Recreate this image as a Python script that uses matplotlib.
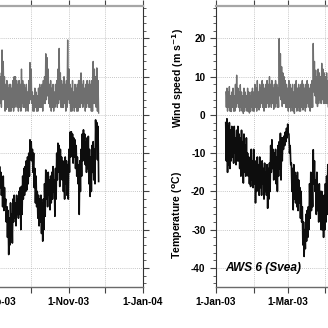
import numpy as np
import matplotlib
matplotlib.use("Agg")
import matplotlib.pyplot as plt
import matplotlib.dates as mdates
from matplotlib.ticker import MultipleLocator, FuncFormatter

plt.rcParams['font.family'] = ['Liberation Sans', 'DejaVu Sans']
plt.rcParams['font.weight'] = 'bold'
plt.rcParams['axes.unicode_minus'] = False

# ---- AWS record, late 2003 (daily high / low of the hourly series, from 1-Sep-03) ----
aws_late_start = '2003-09-01'
wind_late_hi = [9, 8, 10, 11, 11, 10, 17, 14, 10, 8,
                9, 7, 8, 8, 7, 9, 10, 10, 9, 8,
                9, 8, 12, 9, 8, 7, 8, 6, 9, 13.7,
                12, 6, 5, 7, 6, 5, 7, 8, 7, 8,
                9, 10, 16, 15, 12, 8, 9, 7, 8, 6,
                8, 9, 12, 17.4, 11, 9, 8, 10, 8, 9,
                19.6, 12, 8, 7, 9, 6, 8, 7, 8, 9,
                9, 11, 8, 9, 7, 8, 9, 8, 9, 8,
                9, 14, 12, 10, 12.3, 9]
wind_late_lo = [3, 2, 3, 3, 3, 2, 4, 4, 1, 1.5,
                2, 1, 1, 1, 2, 1, 2, 3, 2, 1,
                2, 1, 3, 2, 2, 1, 2, 1, 3, 4,
                3, 1, 1, 2, 1, 1, 2, 2, 2, 1,
                3, 3, 4, 5, 3, 2, 1, 2, 1, 2,
                3, 2, 3, 4, 2, 2, 2, 3, 1, 2,
                4, 3, 1, 1, 2, 1, 2, 1, 1, 2,
                2, 3, 2, 3, 1, 2, 3, 2, 2, 1,
                1, 3, 3, 2, 1, 0.5]
temp_late_hi = [-14, -15, -13, -14, -13.5, -15, -17, -16, -19, -22,
                -24, -25, -27, -23, -26, -22, -21, -23, -21, -22,
                -20, -19, -18.7, -16, -14, -13.5, -12, -11, -10, -6.5,
                -7, -9, -10, -14, -16, -20, -21, -22, -21, -23,
                -22, -18, -14.4, -16, -15, -17, -16, -15, -13.5, -17,
                -14, -10, -7.4, -8, -9, -11, -12, -13, -11, -12,
                -13, -9, -4.5, -4.4, -5, -6, -6.5, -8, -11, -13,
                -12, -9, -5, -3.9, -5, -7, -6, -5.6, -9, -11,
                -8, -7, -9, -1.3, -2, -3]
temp_late_lo = [-20, -21, -19, -20, -19, -21, -24, -25, -24, -28,
                -32, -36.5, -34, -31, -33.5, -28, -27, -29, -26, -27,
                -26, -30, -26, -22, -21, -20, -19.6, -18, -16, -11.7,
                -12, -15, -19, -23, -24, -27, -29, -28, -31, -33,
                -30, -26.5, -22, -24, -21, -24.8, -23, -22, -20, -26.5,
                -22, -17, -15, -18.7, -16, -17, -20, -22, -18, -21,
                -22, -15, -11, -10, -12.6, -11, -14, -16, -18, -26,
                -20, -16, -12, -10, -13, -15, -14, -18, -21.3, -20,
                -15, -17, -18, -8, -11.7, -17.4]

# ---- AWS 6 (Svea), early 2003 (daily high / low, from 9-Jan-03) ----
svea_start = '2003-01-09'
wind_svea_hi = [6, 7, 6, 7.4, 5, 6, 7, 5, 8, 10.4,
                7, 6, 7.9, 6, 5, 7, 6, 5, 7, 6,
                5, 6, 7, 6, 8, 7, 9, 6, 8, 7,
                9, 8, 7, 8, 9, 8, 10, 8, 9, 7,
                8, 9, 8, 7, 20, 16, 12.6, 11, 10, 9,
                8, 7, 9, 8, 7, 8, 6, 8, 9, 7,
                8, 7, 8, 9, 8, 7, 8, 9, 8, 7,
                8, 9, 18.7, 14, 11.7, 10, 12, 11, 10, 13.5,
                12, 11, 10, 11, 9, 10, 9, 10, 9]
wind_svea_lo = [2, 1, 2, 1, 0.9, 2, 1, 1, 2, 3,
                2, 1, 2, 1, 0.4, 1, 2, 1, 1, 0.5,
                1, 2, 1, 1, 2, 1, 2, 1.3, 2, 3,
                2, 1, 2, 2, 3, 2, 3, 2, 3, 1.5,
                2, 3, 2, 2, 5, 4, 2.2, 3, 3, 2,
                2, 1, 2, 1, 2, 1, 0.4, 2, 1, 2,
                1, 1, 2, 1.3, 2, 1, 2, 3, 2, 1,
                2, 2, 6, 5, 3, 2.2, 3, 4, 3, 4,
                3, 3, 3, 3, 2, 3, 2, 3, 2]
temp_svea_hi = [-2, -1, -3, -2, -4, -3, -5, -3, -6, -4,
                -3, -5, -6, -4, -7, -5, -8, -6, -10, -11,
                -12, -9, -12, -9, -12, -14, -11, -13, -11, -13,
                -12, -14, -12.6, -15, -13, -14, -12.6, -8, -6.5, -9,
                -10, -9, -11, -8, -7, -4.8, -6, -6, -5.5, -4.5,
                -3.5, -2.4, -5, -8, -12.6, -14, -13, -15, -16, -15,
                -17, -19, -20, -24, -28, -30, -26, -25, -24, -18,
                -15, -17, -9.1, -12, -17, -15, -19, -18, -20, -20,
                -22, -21, -18, -16, -13, -15, -17, -16, -18]
temp_svea_lo = [-12, -15, -13, -14, -12, -11, -12.6, -10, -13, -12,
                -12, -14, -16, -13, -17.8, -15, -16, -14, -16, -18,
                -18.7, -17, -19, -18, -23, -20, -19, -21, -19, -21,
                -18, -22, -20, -21, -24.4, -22, -20, -15, -14, -17,
                -16, -18, -20, -16, -14, -17, -12, -9, -8, -7,
                -6, -5, -10, -13, -20, -24.8, -22, -23, -24, -25,
                -23, -27, -28, -34, -37, -35, -33, -32, -30, -27,
                -25, -24, -18, -20, -26, -25, -28, -27, -30, -30,
                -32, -30, -28, -26, -24, -27, -30, -28, -29]

station_label = 'AWS 6 (Svea)'
wind_ylabel = 'Wind speed (m s$^{\\mathbf{-1}}$)'
temp_ylabel = 'Temperature ($^{\\mathbf{o}}$C)'

WIND_COLOR = '#6f6f6f'
TEMP_COLOR = '#0d0d0d'
GRID_COLOR = '#b4b4b4'


def band(start, hi, lo):
    """Alternate daily high and low values so the hourly spread reads as a band."""
    hi = np.asarray(hi, float)
    lo = np.asarray(lo, float)
    t0 = mdates.date2num(np.datetime64(start))
    days = t0 + np.arange(len(hi))
    t = np.empty(2 * len(hi))
    v = np.empty(2 * len(hi))
    t[0::2], t[1::2] = days, days + 0.5
    v[0::2], v[1::2] = hi, lo
    return t, v


def date_label(x, pos):
    d = mdates.num2date(x)
    return f"{d.day}-{d.strftime('%b-%y')}"


def style_axes(ax, x0, x1, show_ylabels):
    ax.set_xlim(mdates.date2num(np.datetime64(x0)), mdates.date2num(np.datetime64(x1)))
    ax.set_ylim(-45, 28.5)
    ax.xaxis.set_major_locator(mdates.MonthLocator(bymonth=[1, 3, 5, 7, 9, 11]))
    ax.xaxis.set_minor_locator(mdates.MonthLocator())
    ax.xaxis.set_major_formatter(FuncFormatter(date_label))
    ax.yaxis.set_major_locator(MultipleLocator(10))
    ax.yaxis.set_minor_locator(MultipleLocator(2))
    ax.grid(True, which='both', axis='x', color=GRID_COLOR, lw=0.6, ls=(0, (1, 1.5)))
    ax.grid(True, which='major', axis='y', color=GRID_COLOR, lw=0.6, ls=(0, (1, 1.5)))
    ax.set_axisbelow(True)
    ax.tick_params(axis='x', which='both', direction='out', top=True, bottom=True,
                   length=4, width=0.8, color='#444444', labelsize=7.2, pad=3)
    ax.tick_params(axis='y', which='major', direction='out', left=True, right=True,
                   length=4.5, width=0.8, color='#444444', labelsize=7.2, pad=3,
                   labelleft=show_ylabels)
    ax.tick_params(axis='y', which='minor', direction='out', left=True, right=True,
                   length=2.2, width=0.6, color='#444444')
    ax.spines['top'].set_color('#a6a6a6')
    ax.spines['top'].set_linewidth(1.6)
    ax.spines['bottom'].set_color('#6a6a6a')
    ax.spines['bottom'].set_linewidth(1.0)
    for s in ('left', 'right'):
        ax.spines[s].set_color('#333333')
        ax.spines[s].set_linewidth(0.8)
    for lab in ax.get_xticklabels() + ax.get_yticklabels():
        lab.set_fontweight('bold')


fig = plt.figure(figsize=(3.28, 3.28), dpi=100)
W, H = 328.0, 328.0
bottom = 1 - 287 / H
height = (287 - 6) / H

# late-2003 panel (Jul 2003 - Jan 2004)
ax_late = fig.add_axes([-80.6 / W, bottom, 223.6 / W, height])
style_axes(ax_late, '2003-07-01', '2004-01-01', False)
t, v = band(aws_late_start, wind_late_hi, wind_late_lo)
ax_late.plot(t, v, color=WIND_COLOR, lw=1.0)
t, v = band(aws_late_start, temp_late_hi, temp_late_lo)
ax_late.plot(t, v, color=TEMP_COLOR, lw=1.2)

# early-2003 panel, AWS 6 (Svea)
ax_svea = fig.add_axes([216 / W, bottom, 220 / W, height])
style_axes(ax_svea, '2003-01-01', '2003-07-01', True)
t, v = band(svea_start, wind_svea_hi, wind_svea_lo)
ax_svea.plot(t, v, color=WIND_COLOR, lw=1.0)
t, v = band(svea_start, temp_svea_hi, temp_svea_lo)
ax_svea.plot(t, v, color=TEMP_COLOR, lw=1.2)

ax_svea.text(-0.172, 0.745, wind_ylabel, transform=ax_svea.transAxes, rotation=90,
             ha='center', va='center', fontsize=7.6, fontweight='bold')
ax_svea.text(-0.172, 0.255, temp_ylabel, transform=ax_svea.transAxes, rotation=90,
             ha='center', va='center', fontsize=7.6, fontweight='bold')
ax_svea.text(0.04, 0.068, station_label, transform=ax_svea.transAxes,
             ha='left', va='center', fontsize=8.6, fontweight='bold', style='italic')

fig.savefig('out.png', dpi=100)
